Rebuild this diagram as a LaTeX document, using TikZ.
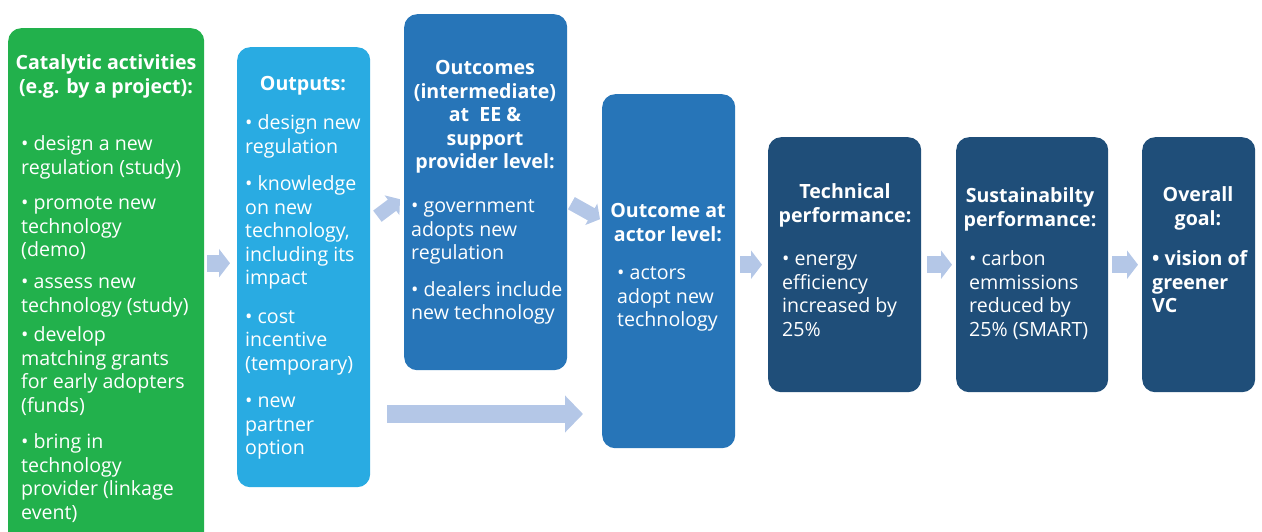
\documentclass[tikz,border=0pt]{standalone}
\usepackage{fontspec}
\setmainfont{Open Sans}
\usetikzlibrary{arrows.meta}

\definecolor{catgreen}{RGB}{34,177,76}
\definecolor{outblue}{RGB}{41,171,226}
\definecolor{midblue}{RGB}{39,117,184}
\definecolor{darkblue}{RGB}{31,78,121}
\definecolor{arrowc}{RGB}{180,199,231}

\tikzset{
	box/.style={rounded corners=13pt, inner sep=0pt, anchor=north west},
	boxtitle/.style={font=\fontsize{19.6}{23.5}\selectfont\bfseries, align=center, text=white, inner sep=0pt, anchor=north},
	boxtext/.style={font=\fontsize{19.6}{23.5}\selectfont, align=left, text=white, inner sep=0pt, anchor=north west},
	flow/.style={draw=arrowc, line width=17pt, -{Triangle[length=11pt, width=28pt]}},
	slantflow/.style={draw=arrowc, line width=14pt, -{Triangle[length=10pt, width=24pt]}},
	bigflow/.style={draw=arrowc, line width=18pt, -{Triangle[length=18pt, width=36pt]}}
}

\begin{document}
\begin{tikzpicture}[x=1pt, y=-1pt]
	\useasboundingbox (0,0) rectangle (1262,532);

	\node[box, fill=catgreen, minimum width=196pt, minimum height=520pt] (cat) at (8,28) {};
	\node[box, fill=outblue, minimum width=133pt, minimum height=440pt] (out) at (237,47) {};
	\node[box, fill=midblue, minimum width=163pt, minimum height=356pt] (int) at (404,14) {};
	\node[box, fill=midblue, minimum width=133pt, minimum height=354pt] (act) at (602,94) {};
	\node[box, fill=darkblue, minimum width=153pt, minimum height=255pt] (tech) at (768,137) {};
	\node[box, fill=darkblue, minimum width=152pt, minimum height=255pt] (sus) at (956,137) {};
	\node[box, fill=darkblue, minimum width=113pt, minimum height=255pt] (goal) at (1142,137) {};

	\node[boxtitle] (cattitle) at (106,53) {\strut Catalytic activities\\(e.g. by a project):};
	\node[boxtext] (catbody) at (21,134) {\strut• design a new\\regulation (study)\\[12pt]• promote new\\technology\\(demo)\\[8.5pt]• assess new\\technology (study)\\[6pt]• develop\\matching grants\\for early adopters\\(funds)\\[13pt]• bring in\\technology\\provider (linkage\\event)};

	\node[boxtitle] (outtitle) at (303,74) {\strut Outputs:};
	\node[boxtext] (outbody) at (245,113) {\strut• design new\\regulation\\[14pt]• knowledge\\on new\\technology,\\including its\\impact\\[15pt]• cost\\incentive\\(temporary)\\[14pt]• new\\partner\\option};

	\node[boxtitle] (inttitle) at (485,58) {\strut Outcomes\\(intermediate)\\at\ \ EE \&\\support\\provider level:};
	\node[boxtext] (intbody) at (411,196) {\strut• government\\adopts new\\regulation\\[13pt]• dealers include\\new technology};

	\node[boxtitle] (acttitle) at (668,201) {\strut Outcome at\\actor level:};
	\node[boxtext] (actbody) at (617,263) {\strut• actors\\adopt new\\technology};

	\node[boxtitle] (techtitle) at (845,182) {\strut Technical\\performance:};
	\node[boxtext] (techbody) at (782,249) {\strut• energy\\efficiency\\increased by\\25\%};

	\node[boxtitle] (sustitle) at (1030,186) {\strut Sustainabilty\\performance:};
	\node[boxtext] (susbody) at (969,249) {\strut• carbon\\emmissions\\reduced by\\25\% (SMART)};

	\node[boxtitle] (goaltitle) at (1198,185) {\strut Overall\\goal:};
	\node[boxtext, font=\fontsize{19.6}{23.5}\selectfont\bfseries] (goalbody) at (1152,249) {\strut• vision of\\greener\\VC};

	\coordinate (bypass) at (387,414);

	\draw[flow] ([shift={(3,-4)}]cat.east |- out.west) -- ([shift={(-7,-4)}]out.west);
	\draw[slantflow] ([shift={(7,-51)}]out.east) -- ([shift={(-4,7)}]int.west);
	\draw[slantflow] ([shift={(4,11)}]int.east) -- ([shift={(-2,-52)}]act.west);
	\draw[bigflow, shorten >=19pt] (bypass) -- (bypass -| act.west);
	\draw[flow] ([xshift=5pt]act.east |- tech.west) -- ([xshift=-6pt]tech.west);
	\draw[flow] ([xshift=6pt]tech.east) -- ([xshift=-4pt]sus.west);
	\draw[flow] ([xshift=4pt]sus.east) -- ([xshift=-4pt]goal.west);
\end{tikzpicture}
\end{document}
